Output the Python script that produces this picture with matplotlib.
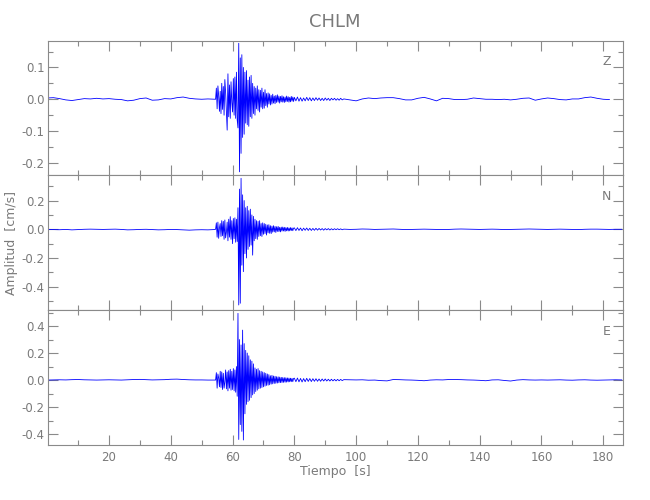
import numpy as np
import matplotlib
matplotlib.use("Agg")
import matplotlib.pyplot as plt
from matplotlib.ticker import MultipleLocator, FormatStrFormatter, FixedLocator

title = "CHLM"
channels = ["Z", "N", "E"]
xlabel = "Tiempo  [s]"
ylabel = "Amplitud  [cm/s]"
xtick_values = [20, 40, 60, 80, 100, 120, 140, 160, 180]

# sample times of each segment (s)
t_pre = np.arange(0.0, 54.5, 2.0)        # 0..54
t_main = np.arange(54.5, 80.0, 0.25)     # 54.5..79.75
t_coda = np.arange(80.0, 96.0, 0.5)      # 80..95.5
t_post = np.arange(96.0, 187.0, 2.0)     # 96..186

# ---- Z component ----
z_pre = [0.004, 0.005, 0.002, -0.002, -0.004, -0.001, 0.002, 0.001, 0.003, 0.001,
         0.002, 0.000, -0.001, -0.005, -0.003, 0.002, 0.004, -0.003, -0.002, 0.002,
         0.001, 0.005, 0.007, 0.003, 0.001, 0.000, 0.001, 0.000]
z_main = [0.000, 0.035, -0.030, 0.042, 0.010, -0.038, 0.025, -0.045, 0.050, -0.032,
          0.040, -0.050, 0.062, 0.020, -0.040, -0.097, 0.080, -0.055, 0.045, -0.060,
          0.055, -0.010, -0.040, 0.065, -0.050, 0.070, -0.060, 0.085, -0.065, -0.090,
          0.176, -0.228, 0.130, -0.170, 0.140, -0.120, 0.100, -0.110, 0.085, -0.075,
          0.090, -0.080, 0.060, -0.085, 0.070, -0.055, 0.075, -0.060, 0.050, -0.045,
          0.040, -0.050, 0.035, -0.030, 0.042, -0.035, 0.030, -0.040, 0.028, -0.025,
          0.035, -0.030, 0.022, -0.028, 0.030, -0.020, 0.018, -0.025, 0.020, -0.015,
          0.017, -0.018, 0.012, -0.015, 0.016, -0.012, 0.010, -0.014, 0.012, -0.010,
          0.014, -0.009, 0.010, -0.012, 0.009, -0.008, 0.011, -0.009, 0.008, -0.010,
          0.007, -0.008, 0.010, -0.007, 0.008, -0.009, 0.006, -0.008, 0.009, -0.006,
          0.007, -0.007]
z_coda = [0.006, -0.005, 0.007, -0.006, 0.005, -0.006, 0.004, -0.005, 0.006, -0.004,
          0.005, -0.005, 0.004, -0.004, 0.005, -0.003, 0.004, -0.004, 0.003, -0.004,
          0.004, -0.003, 0.003, -0.004, 0.003, -0.002, 0.003, -0.003, 0.002, -0.003,
          0.003, -0.002]
z_post = [0.001, -0.002, -0.005, 0.001, 0.004, 0.002, 0.004, 0.005, 0.005, 0.002,
          -0.002, -0.002, 0.003, 0.006, 0.001, -0.005, 0.003, 0.002, -0.001, -0.001,
          0.000, 0.004, 0.002, 0.000, 0.000, -0.001, 0.000, -0.002, 0.000, 0.003,
          0.004, -0.003, 0.001, 0.004, 0.002, -0.001, -0.002, 0.001, 0.001, 0.005,
          0.007, 0.003, 0.000, -0.001, np.nan, np.nan]

# ---- N component ----
n_pre = [0.000, -0.002, -0.003, -0.001, -0.004, -0.002, 0.000, 0.001, 0.000, -0.001,
         0.000, 0.001, -0.001, -0.004, -0.003, -0.001, 0.000, -0.002, -0.004, -0.003,
         -0.001, -0.002, -0.004, -0.006, -0.004, -0.003, -0.004, -0.002]
n_main = [0.000, 0.045, -0.055, 0.050, -0.063, 0.010, 0.040, -0.050, 0.060, -0.045,
          0.055, -0.070, 0.065, -0.060, -0.020, 0.050, -0.080, 0.070, -0.055, 0.088,
          -0.070, 0.060, -0.100, 0.075, -0.065, 0.080, -0.090, 0.070, -0.085, 0.150,
          -0.527, 0.280, -0.515, 0.355, -0.250, 0.240, -0.295, 0.200, -0.170, 0.150,
          -0.200, 0.160, -0.140, 0.130, -0.120, 0.140, -0.110, 0.100, -0.180, 0.090,
          -0.080, 0.070, -0.065, 0.060, -0.070, 0.055, -0.050, 0.060, -0.045, 0.040,
          -0.050, 0.045, -0.035, 0.040, -0.030, 0.035, -0.040, 0.030, -0.025, 0.032,
          -0.028, 0.025, -0.030, 0.022, -0.020, 0.025, -0.018, 0.020, -0.022, 0.018,
          -0.015, 0.020, -0.016, 0.014, -0.018, 0.015, -0.013, 0.016, -0.012, 0.014,
          -0.015, 0.012, -0.011, 0.013, -0.012, 0.010, -0.011, 0.012, -0.009, 0.010,
          -0.010, 0.008]
n_coda = [0.010, -0.009, 0.011, -0.008, 0.009, -0.010, 0.008, -0.007, 0.009, -0.008,
          0.007, -0.008, 0.006, -0.007, 0.007, -0.006, 0.006, -0.005, 0.005, -0.006,
          0.005, -0.004, 0.005, -0.005, 0.004, -0.004, 0.004, -0.003, 0.004, -0.003,
          0.003, -0.003]
n_post = [0.001, -0.001, 0.000, 0.002, 0.001, -0.001, 0.000, 0.001, 0.002, 0.000,
          -0.002, -0.001, 0.000, 0.001, 0.000, -0.001, -0.002, -0.001, 0.001, 0.002,
          0.001, 0.000, -0.001, 0.000, 0.001, 0.000, -0.002, -0.001, 0.000, 0.001,
          0.002, 0.001, 0.000, -0.001, 0.000, 0.001, 0.000, -0.001, -0.002, 0.000,
          0.001, 0.001, 0.000, -0.001, 0.000, 0.000]

# ---- E component ----
e_pre = [0.000, 0.001, 0.002, 0.001, 0.003, 0.004, 0.002, 0.001, 0.000, 0.001,
         0.002, 0.001, 0.000, 0.002, 0.004, 0.005, 0.003, 0.001, 0.002, 0.003,
         0.006, 0.007, 0.004, 0.002, 0.001, 0.001, 0.000, 0.000]
e_main = [0.000, 0.055, -0.060, 0.045, 0.015, -0.050, 0.065, -0.055, 0.060, -0.070,
          0.050, -0.060, -0.015, 0.075, -0.065, 0.060, -0.080, 0.070, -0.060, 0.080,
          -0.075, 0.065, -0.070, 0.085, -0.080, 0.075, -0.090, 0.100, -0.120, 0.494,
          -0.440, 0.300, -0.330, 0.260, -0.380, 0.370, -0.444, 0.270, -0.250, 0.220,
          -0.180, 0.200, -0.160, 0.180, -0.150, 0.150, -0.130, 0.140, -0.110, 0.120,
          -0.100, 0.090, -0.085, 0.080, -0.075, 0.085, -0.065, 0.070, -0.060, 0.065,
          -0.055, 0.060, -0.050, 0.055, -0.045, 0.050, -0.040, 0.045, -0.038, 0.040,
          -0.035, 0.032, -0.030, 0.035, -0.028, 0.030, -0.025, 0.028, -0.024, 0.025,
          -0.022, 0.024, -0.020, 0.022, -0.019, 0.020, -0.018, 0.019, -0.017, 0.018,
          -0.016, 0.017, -0.015, 0.016, -0.014, 0.015, -0.013, 0.014, -0.012, 0.013,
          -0.012, 0.012]
e_coda = [0.014, -0.012, 0.015, -0.013, 0.012, -0.014, 0.011, -0.012, 0.013, -0.010,
          0.011, -0.011, 0.010, -0.009, 0.010, -0.009, 0.008, -0.009, 0.008, -0.007,
          0.008, -0.007, 0.006, -0.007, 0.006, -0.006, 0.005, -0.006, 0.005, -0.005,
          0.005, -0.004]
e_post = [0.003, 0.002, 0.001, 0.002, -0.001, 0.000, -0.004, -0.006, 0.004, 0.003,
          0.001, 0.000, -0.002, -0.005, 0.000, 0.002, 0.001, 0.004, 0.004, 0.003,
          0.001, 0.000, -0.002, -0.005, 0.001, 0.002, -0.003, -0.007, 0.000, 0.003,
          0.001, 0.000, 0.001, 0.000, 0.001, 0.002, 0.000, -0.001, 0.001, 0.002,
          0.000, -0.001, 0.000, 0.001, 0.002, 0.001]

traces = [
    (z_pre, z_main, z_coda, z_post),
    (n_pre, n_main, n_coda, n_post),
    (e_pre, e_main, e_coda, e_post),
]
ylims = [(-0.238, 0.184), (-0.562, 0.378), (-0.481, 0.519)]
ymajor = [0.1, 0.2, 0.2]
yminor = [0.05, 0.1, 0.1]
xlim = (0.1, 186.4)

gray = "#8a8a8a"
txt = "#7a7a7a"
t_all = np.concatenate([t_pre, t_main, t_coda, t_post])

fig = plt.figure(figsize=(6.5, 5.0), dpi=100)
left, width = 47.55 / 650, (623 - 47.55) / 650
bottoms_px = [175, 310, 445]
tops_px = [40.7, 175, 310]
axes = []
for i in range(3):
    b = 1 - bottoms_px[i] / 500
    h = (bottoms_px[i] - tops_px[i]) / 500
    ax = fig.add_axes([left, b, width, h])
    axes.append(ax)
    y = np.concatenate([np.array(s, dtype=float) for s in traces[i]])
    ax.plot(t_all, y, color="#0000ff", lw=0.6)
    ax.set_xlim(*xlim)
    ax.set_ylim(*ylims[i])
    ax.xaxis.set_major_locator(FixedLocator(xtick_values))
    ax.xaxis.set_minor_locator(MultipleLocator(10))
    ax.yaxis.set_major_locator(MultipleLocator(ymajor[i]))
    ax.yaxis.set_minor_locator(MultipleLocator(yminor[i]))
    ax.yaxis.set_major_formatter(FormatStrFormatter("%.1f"))
    ax.tick_params(which="both", direction="in", top=True, right=True,
                   color=gray, labelcolor=txt, labelsize=8.5, width=0.8)
    ax.tick_params(which="major", length=7)
    ax.tick_params(which="minor", length=3.5)
    ax.tick_params(axis="y", pad=2)
    ax.tick_params(axis="x", pad=4)
    for sp in ax.spines.values():
        sp.set_color(gray)
        sp.set_linewidth(0.8)
    if i < 2:
        ax.tick_params(labelbottom=False)
    ax.text(0.9717, 0.844, channels[i], transform=ax.transAxes, ha="center",
            va="center", color=txt, fontsize=9)

fig.text(0.5154, 1 - 22 / 500, title, ha="center", va="center", color=txt, fontsize=13)
fig.text(0.5154, 1 - 471 / 500, xlabel, ha="center", va="center", color=txt, fontsize=9)
fig.text(12 / 650, 1 - 243 / 500, ylabel, ha="center", va="center", rotation=90,
         color=txt, fontsize=9)

fig.savefig("out.png", dpi=100)
